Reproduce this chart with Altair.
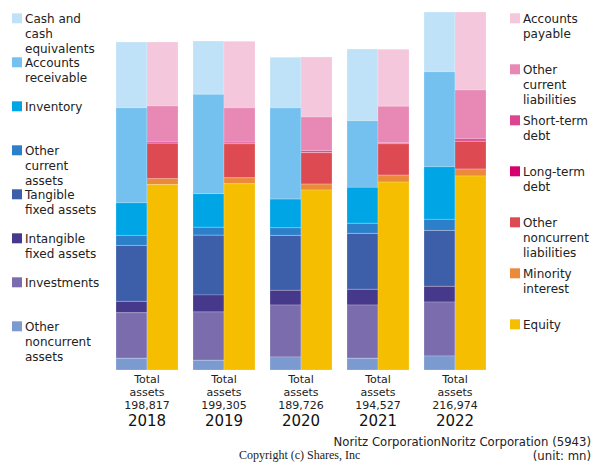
import altair as alt
import pandas as pd

years = ["2018", "2019", "2020", "2021", "2022"]
total_assets = [198817, 199305, 189726, 194527, 216974]

asset_items = ["Cash and cash equivalents", "Accounts receivable", "Inventory",
               "Other current assets", "Tangible fixed assets",
               "Intangible fixed assets", "Investments", "Other noncurrent assets"]
liab_items = ["Accounts payable", "Other current liabilities", "Short-term debt",
              "Long-term debt", "Other noncurrent liabilities", "Minority interest",
              "Equity"]

asset_lines = [["Cash and", "cash", "equivalents"], ["Accounts", "receivable"],
               ["Inventory"], ["Other", "current", "assets"], ["Tangible", "fixed assets"],
               ["Intangible", "fixed assets"], ["Investments"], ["Other", "noncurrent", "assets"]]
liab_lines = [["Accounts", "payable"], ["Other", "current", "liabilities"],
              ["Short-term", "debt"], ["Long-term", "debt"],
              ["Other", "noncurrent", "liabilities"], ["Minority", "interest"], ["Equity"]]

asset_colors = ["#c0e2f8", "#74c1f0", "#00a5e6", "#2b80c9", "#3d5ea8", "#46388a",
                "#7b6dad", "#7b9ad0"]
liab_colors = ["#f4c7dc", "#e888b4", "#de4590", "#d6006e", "#de4a52", "#ea8a3a",
               "#f5be00"]

cash = [39800, 32300, 30700, 43400, 36200]
receivables = [57600, 60200, 55300, 40400, 57600]
inventory = [19800, 20400, 17400, 21800, 31900]
other_current_assets = [6060, 4800, 4600, 6100, 6700]
tangible = [33900, 36200, 33300, 33900, 33900]
intangible = [6900, 10300, 8900, 9500, 9500]
investments = [27600, 29300, 31500, 32300, 32700]
other_noncurrent_assets = [7100, 5900, 7900, 7100, 8500]

payables = [38800, 40400, 36400, 34500, 47300]
other_current_liab = [21800, 20800, 20400, 22200, 29500]
short_debt = [800, 1000, 1200, 600, 1600]
long_debt = [0, 0, 0, 0, 0]
other_noncurrent_liab = [21400, 20600, 19000, 19000, 16800]
minority = [3600, 3600, 3600, 4200, 4200]
equity = [112400, 112900, 109100, 113900, 117600]

asset_series = [cash, receivables, inventory, other_current_assets, tangible,
                intangible, investments, other_noncurrent_assets]
liab_series = [payables, other_current_liab, short_debt, long_debt,
               other_noncurrent_liab, minority, equity]

rows = []
for side, items, series in (("A", asset_items, asset_series), ("L", liab_items, liab_series)):
    n = len(items)
    for k, (name, vals) in enumerate(zip(items, series)):
        for y, v in zip(years, vals):
            rows.append({"year": y, "side": side, "item": name, "value": v, "order": n - k})
bars_df = pd.DataFrame(rows)

color_scale = alt.Scale(domain=asset_items + liab_items, range=asset_colors + liab_colors)

x_enc = alt.X("year:N", axis=None,
              scale=alt.Scale(domain=years, paddingInner=15 / 77, paddingOuter=7.5 / 77))

bars = alt.Chart(bars_df).transform_stack(
    stack="value", groupby=["year", "side"], sort=[alt.SortField("order")],
    as_=["y0", "y1"]
).mark_bar(stroke="white", strokeWidth=0.6, strokeOpacity=0.35).encode(
    x=x_enc,
    xOffset=alt.XOffset("side:N", scale=alt.Scale(domain=["A", "L"], paddingInner=0, paddingOuter=0)),
    y=alt.Y("y0:Q", axis=None, scale=alt.Scale(domain=[0, 217000], nice=False, zero=True)),
    y2="y1:Q",
    color=alt.Color("item:N", scale=color_scale, legend=None),
)

totals_df = pd.DataFrame({"year": years, "total": total_assets})
total_text = alt.Chart(totals_df).transform_calculate(
    lines="['Total', 'assets', format(datum.total, ',')]"
).mark_text(baseline="top", align="center", fontSize=11, lineHeight=13, color="#222").encode(
    x=x_enc, y=alt.value(361.5), text="lines:N"
)
year_text = alt.Chart(totals_df).mark_text(
    baseline="middle", align="center", fontSize=15, color="#111"
).encode(x=x_enc, y=alt.value(408.7), text="year:N")

left_df = pd.DataFrame({"item": asset_items, "lines": asset_lines, "i": range(len(asset_items))})
right_df = pd.DataFrame({"item": liab_items, "lines": liab_lines, "i": range(len(liab_items))})

def legend(df, step, sq_x, tx_x):
    base = alt.Chart(df).transform_calculate(
        sy=f"6.3 + datum.i * {step}", ty=f"2.3 + datum.i * {step}"
    )
    sq = base.mark_square(size=100, opacity=1).encode(
        x=alt.value(sq_x), y=alt.Y("sy:Q", scale=None),
        color=alt.Color("item:N", scale=color_scale, legend=None))
    tx = base.mark_text(align="left", baseline="top", fontSize=12, lineHeight=15,
                        color="#222").encode(
        x=alt.value(tx_x), y=alt.Y("ty:Q", scale=None), text="lines:N")
    return sq + tx

left_leg = legend(left_df, 44, -91.5, -83.5)
right_leg = legend(right_df, 51, 406.5, 414.5)

note_df = pd.DataFrame({"t": ["Noritz CorporationNoritz Corporation (5943)"]})
unit_df = pd.DataFrame({"t": ["(unit: mn)"]})
copy_df = pd.DataFrame({"t": ["Copyright (c) Shares, Inc"]})
note = alt.Chart(note_df).mark_text(align="right", baseline="middle", fontSize=11.7,
                                    color="#222").encode(
    x=alt.value(482.5), y=alt.value(430), text="t:N")
unit = alt.Chart(unit_df).mark_text(align="right", baseline="middle", fontSize=11.7,
                                    color="#222").encode(
    x=alt.value(482.5), y=alt.value(443.5), text="t:N")
copy = alt.Chart(copy_df).mark_text(align="center", baseline="middle", fontSize=12,
                                    font="Liberation Serif", color="#222").encode(
    x=alt.value(191.2), y=alt.value(442.5), text="t:N")

chart = alt.layer(bars, total_text, year_text, left_leg, right_leg, note, unit, copy).properties(
    width=385, height=358,
    autosize=alt.AutoSizeParams(type="none"),
    padding={"left": 100.5, "top": 4, "right": 98.5, "bottom": 92},
).configure(font="DejaVu Sans").configure_view(stroke=None, strokeWidth=0)

chart.save("out.html", embed_options={"renderer": "svg", "actions": False})
